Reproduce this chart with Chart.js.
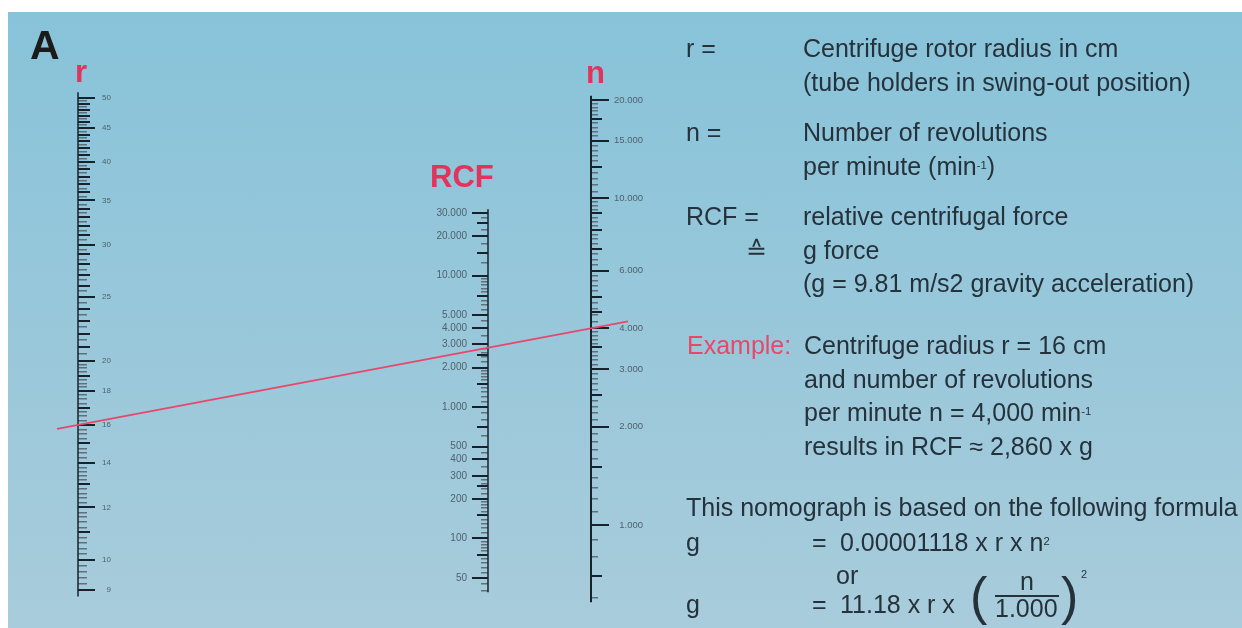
<!DOCTYPE html>
<html>
<head>
<meta charset="utf-8">
<script src="https://cdn.jsdelivr.net/npm/chart.js@4.4.1/dist/chart.umd.min.js"></script>
<style>
html, body { margin: 0; padding: 0; background: #fff; }
#wrap { position: relative; width: 1242px; height: 628px; overflow: hidden; font-family: "Liberation Sans", Arial, sans-serif; }
#panel { position: absolute; left: 8px; top: 12px; right: 0; bottom: 0; background: linear-gradient(#88c3d9, #a8ccdb); }
#chart { position: absolute; left: 0; top: 0; }
.t { position: absolute; white-space: nowrap; line-height: 1em; color: #26323b; }
.red { color: #e2335c; }
.sup { position: relative; top: -0.55em; font-size: 0.45em; }
</style>
</head>
<body>
<div id="wrap">
  <div id="panel"></div>
  <canvas id="chart" width="1242" height="628"></canvas>
</div>
<script>
// scale values of the nomograph
var rLabels = [50, 45, 40, 35, 30, 25, 20, 18, 16, 14, 12, 10, 9];
var rSteps = [[9, 14, 0.2], [14, 20, 0.25], [20, 50, 0.5]];
var rSpan = [8.8, 51];

var rcfLabels = [30000, 20000, 10000, 5000, 4000, 3000, 2000, 1000, 500, 400, 300, 200, 100, 50];
var rcfMid = [75, 150, 250, 700, 1500, 2500, 7000, 15000, 25000];
var rcfSteps = [[40, 100, 5], [100, 200, 10], [200, 300, 20], [300, 500, 50], [500, 2000, 100], [2000, 3000, 200], [3000, 10000, 500], [10000, 30000, 2500]];
var rcfSpan = [39, 32000];

var nLabels = [20000, 15000, 10000, 6000, 4000, 3000, 2000, 1000];
var nMid = [700, 1500, 2500, 3500, 4500, 5000, 7000, 8000, 9000, 12500, 17500];
var nSteps = [[600, 4000, 100], [4000, 6000, 200], [6000, 10000, 250], [10000, 20000, 500]];
var nSpan = [580, 20600];

var example = { r: 16, n: 4000, rcf: 2860 };

// layout
var AREA = { top: 20, bottom: 608 };
var X = { r: 78, rLab: 111, rcf: 488, rcfLab: 467, n: 591, nLab: 643, lineFrom: 57, lineTo: 628 };
// two reference values and their y pixel on each scale
var anchors = { r: [50, 98, 9, 590], rcf: [30000, 213, 50, 578], n: [20000, 100, 1000, 525] };
var INK = '#17222c', GREY = '#5d717d', LABEL = '#4f616c';

function logRange(a) {
  var k = (a[3] - a[1]) / (Math.log10(a[0]) - Math.log10(a[2]));
  return {
    min: Math.pow(10, Math.log10(a[0]) - (AREA.bottom - a[1]) / k),
    max: Math.pow(10, Math.log10(a[0]) + (a[1] - AREA.top) / k)
  };
}

function stepTicks(steps) {
  var out = [];
  steps.forEach(function (s) {
    for (var v = s[0]; v < s[1] - 1e-9; v += s[2]) out.push(+v.toFixed(3));
  });
  return out;
}

function fmt(v) {
  return String(v).replace(/\B(?=(\d{3})+(?!\d))/g, '.');
}

var scales = { x: { type: 'linear', min: 0, max: 1242, display: false } };

function tickAxis(id, range, x, values, len, width, color) {
  scales[id] = {
    type: 'logarithmic', axis: 'y', min: range.min, max: range.max,
    position: { x: x },
    afterBuildTicks: function (s) { s.ticks = values.map(function (v) { return { value: v }; }); },
    border: { display: false },
    grid: { display: true, drawOnChartArea: false, drawTicks: true, tickLength: len, lineWidth: width, color: color },
    ticks: { display: false }
  };
}

function labelAxis(id, range, x, values, size) {
  scales[id] = {
    type: 'logarithmic', axis: 'y', min: range.min, max: range.max,
    position: { x: x },
    afterBuildTicks: function (s) { s.ticks = values.map(function (v) { return { value: v }; }); },
    border: { display: false },
    grid: { display: false },
    ticks: {
      autoSkip: false, color: LABEL,
      font: { family: 'Liberation Sans', size: size },
      callback: function (v) { return fmt(v); }
    }
  };
}

function buildScale(key, x, labX, labels, mid, steps, side, lens, labSize) {
  var range = logRange(anchors[key]);
  var all = stepTicks(steps);
  var mids = mid || all.filter(function (v) { return Number.isInteger(v); });
  mids = mids.filter(function (v) { return labels.indexOf(v) < 0; });
  var shorts = all.filter(function (v) { return labels.indexOf(v) < 0 && mids.indexOf(v) < 0; });
  var dir = side === 'right' ? -1 : 1;
  tickAxis('y' + key + '0', range, x, labels, dir * lens[0], 2, INK);
  tickAxis('y' + key + '1', range, x, mids, dir * lens[1], 2, INK);
  tickAxis('y' + key + '2', range, x, shorts, dir * lens[2], 1.5, GREY);
  labelAxis('y' + key + 'L', range, labX, labels, labSize);
}

buildScale('r', X.r, X.rLab, rLabels, null, rSteps, 'right', [17, 12, 9], 8);
buildScale('rcf', X.rcf, X.rcfLab, rcfLabels, rcfMid, rcfSteps, 'left', [16, 11, 7], 10);
buildScale('n', X.n, X.nLab, nLabels, nMid, nSteps, 'right', [18, 11, 7], 9.5);

function spine(axisId, x, span, w) {
  return {
    yAxisID: axisId, xAxisID: 'x', showLine: true, borderColor: INK, borderWidth: w,
    pointRadius: 0, data: [{ x: x, y: span[0] }, { x: x, y: span[1] }]
  };
}

var exampleLine = {
  id: 'exampleLine',
  afterDatasetsDraw: function (chart) {
    var s = chart.scales, ctx = chart.ctx;
    var y1 = s.yr0.getPixelForValue(example.r);
    var y2 = s.yn0.getPixelForValue(example.n);
    var m = (y2 - y1) / (X.n - X.r);
    ctx.save();
    ctx.strokeStyle = '#e8476c';
    ctx.lineWidth = 1.6;
    ctx.beginPath();
    ctx.moveTo(X.lineFrom, y1 + m * (X.lineFrom - X.r));
    ctx.lineTo(X.lineTo, y1 + m * (X.lineTo - X.r));
    ctx.stroke();
    ctx.restore();
  }
};

var chart = new Chart(document.getElementById('chart').getContext('2d'), {
  type: 'scatter',
  data: {
    datasets: [
      spine('yr0', X.r, rSpan, 1.5),
      spine('yrcf0', X.rcf, rcfSpan, 1.5),
      spine('yn0', X.n, nSpan, 2)
    ]
  },
  options: {
    responsive: false,
    animation: false,
    events: [],
    layout: { padding: { top: AREA.top, bottom: 628 - AREA.bottom, left: 0, right: 0 } },
    plugins: { legend: { display: false }, tooltip: { enabled: false } },
    scales: scales
  },
  plugins: [exampleLine]
});

// texts
var wrap = document.getElementById('wrap');
function put(x, base, size, html, cls, weight) {
  var d = document.createElement('div');
  d.className = 't' + (cls ? ' ' + cls : '');
  d.style.left = x + 'px';
  d.style.top = (base - 0.8465 * size) + 'px';
  d.style.fontSize = size + 'px';
  if (weight) d.style.fontWeight = weight;
  d.innerHTML = html;
  wrap.appendChild(d);
  return d;
}

put(30, 60, 41, 'A', null, 'bold').style.color = '#1b1b1b';
put(75, 82, 31, 'r', 'red', 'bold');
put(430, 187, 31, 'RCF', 'red', 'bold');
put(586, 83, 31, 'n', 'red', 'bold');

var F = 25;
put(686, 57, F, 'r =');
put(803, 57, F, 'Centrifuge rotor radius in cm');
put(803, 91, F, '(tube holders in swing-out position)');
put(686, 141, F, 'n =');
put(803, 141, F, 'Number of revolutions');
put(803, 175, F, 'per minute (min<span class="sup">-1</span>)');
put(686, 225, F, 'RCF =');
put(803, 225, F, 'relative centrifugal force');
put(746, 259, F, '&#8793;');
put(803, 259, F, 'g force');
put(803, 292, F, '(g = 9.81 m/s2 gravity acceleration)');
put(687, 354, F, 'Example:', 'red').style.color = '#e8476c';
put(804, 354, F, 'Centrifuge radius r = ' + example.r + ' cm');
put(804, 388, F, 'and number of revolutions');
put(804, 421, F, 'per minute n = ' + example.n.toLocaleString('en-US') + ' min<span class="sup">-1</span>');
put(804, 455, F, 'results in RCF &#8776; ' + example.rcf.toLocaleString('en-US') + ' x g');
put(686, 516, F, 'This nomograph is based on the following formula');
put(686, 551, F, 'g');
put(812, 551, F, '=');
put(840, 551, F, '0.00001118 x r x n<span class="sup">2</span>');
put(836, 584, F, 'or');
put(686, 613, F, 'g');
put(812, 613, F, '=');
put(840, 613, F, '11.18 x r x');
put(970, 614, 52, '(', null, '300');
put(1020, 590, F, 'n');
put(995, 617, F, '1.000');
put(1061, 614, 52, ')', null, '300');
put(1081, 578, 11, '2');
var bar = document.createElement('div');
bar.style.cssText = 'position:absolute;left:995px;top:595px;width:64px;height:1.5px;background:#26323b;';
wrap.appendChild(bar);
</script>
</body>
</html>
